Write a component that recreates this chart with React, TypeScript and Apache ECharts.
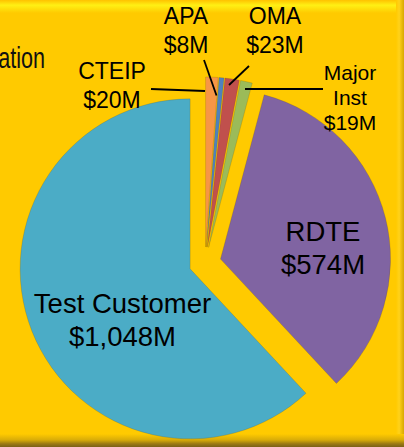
import React, { useEffect, useRef } from "react";
import * as echarts from "echarts";

const categories = ["CTEIP", "APA", "OMA", "Major Inst", "RDTE", "Test Customer"];
const values = [20, 8, 23, 19, 574, 1048];
const colors = ["#F79646", "#4F81BD", "#C0504D", "#9BBB59", "#8064A2", "#4BACC6"];
const titleFragment = "ation";

// label styling / placement (layout only)
const labelFont = [23, 23, 23, 21, 27.5, 27.5];
const labelLH = [29, 29, 29, 25, 33, 33];
const labelPos: [number, number][] = [
  [112, 85],
  [186, 30],
  [275, 30],
  [350, 97],
  [323, 247.5],
  [122.5, 319.5],
];
const leaderLines: ([number, number][] | null)[] = [
  [[151, 89], [205, 91]],
  [[204, 60], [216.5, 95.5]],
  [[249, 66], [229, 85]],
  [[323, 89], [245, 89]],
  null,
  null,
];

const FONT = "'Liberation Sans', Arial, Helvetica, sans-serif";

function labelText(name: string, value: number) {
  const nm = name === "Major Inst" ? "Major\nInst" : name;
  return nm + "\n$" + value.toLocaleString("en-US") + "M";
}

export default function App() {
  const ref = useRef<HTMLDivElement>(null);
  useEffect(() => {
    if (!ref.current) return;
    const chart = echarts.init(ref.current, undefined, { renderer: "svg" });
    const data = categories.map((name, i) => ({
      name,
      value: values[i],
      selected: true,
      itemStyle: { color: colors[i] },
    }));
    const labelGraphics: any[] = [];
    categories.forEach((name, i) => {
      const pts = leaderLines[i];
      if (pts) {
        labelGraphics.push({
          type: "polyline",
          shape: { points: pts },
          style: { stroke: "#000", lineWidth: 1.8, fill: null },
          silent: true,
          z: 10,
        });
      }
      labelGraphics.push({
        type: "text",
        x: labelPos[i][0],
        y: labelPos[i][1],
        style: {
          text: labelText(name, values[i]),
          fontFamily: FONT,
          fontSize: labelFont[i],
          lineHeight: labelLH[i],
          fill: "#000",
          align: "center",
          verticalAlign: "middle",
        },
        silent: true,
        z: 10,
      });
    });
    chart.setOption({
      animation: false,
      backgroundColor: "#FFCA00",
      graphic: [
        {
          type: "rect",
          shape: { x: 0, y: 0, width: 404, height: 13 },
          style: {
            fill: new echarts.graphic.LinearGradient(0, 0, 0, 1, [
              { offset: 0, color: "#FFC200" },
              { offset: 0.4, color: "#FFF014" },
              { offset: 1, color: "#FFCA00" },
            ]),
          },
          silent: true,
          z: -10,
        },
        {
          type: "rect",
          shape: { x: 396, y: 0, width: 8, height: 447 },
          style: {
            fill: new echarts.graphic.LinearGradient(0, 0, 1, 0, [
              { offset: 0, color: "#FFCA00" },
              { offset: 0.4, color: "#FFD21A" },
              { offset: 1, color: "#D8A800" },
            ]),
          },
          silent: true,
          z: -10,
        },
        {
          type: "rect",
          shape: { x: 0, y: 434, width: 404, height: 13 },
          style: {
            fill: new echarts.graphic.LinearGradient(0, 0, 0, 1, [
              { offset: 0, color: "#FFCA00" },
              { offset: 0.45, color: "#D9AC08" },
              { offset: 0.75, color: "#9C7A12" },
              { offset: 1, color: "#7A6018" },
            ]),
          },
          silent: true,
          z: -10,
        },
        {
          type: "text",
          x: 45,
          y: 58,
          scaleX: 0.72,
          style: {
            text: titleFragment,
            fontFamily: FONT,
            fontSize: 30,
            fill: "#111",
            align: "right",
            verticalAlign: "middle",
          },
          silent: true,
        },
        ...labelGraphics,
      ],
      series: [
        {
          type: "pie",
          center: [205, 263],
          radius: 170,
          startAngle: 90,
          clockwise: true,
          selectedMode: "multiple",
          selectedOffset: 16,
          emphasis: { disabled: true },
          itemStyle: { borderColor: "rgba(110,80,0,0.25)", borderWidth: 0.8 },
          label: { show: false },
          labelLine: { show: false },
          data,
        },
      ],
    });
    return () => chart.dispose();
  }, []);
  return (
    <div
      ref={ref}
      style={{ position: "fixed", left: 0, top: 0, width: 404, height: 447 }}
    />
  );
}
